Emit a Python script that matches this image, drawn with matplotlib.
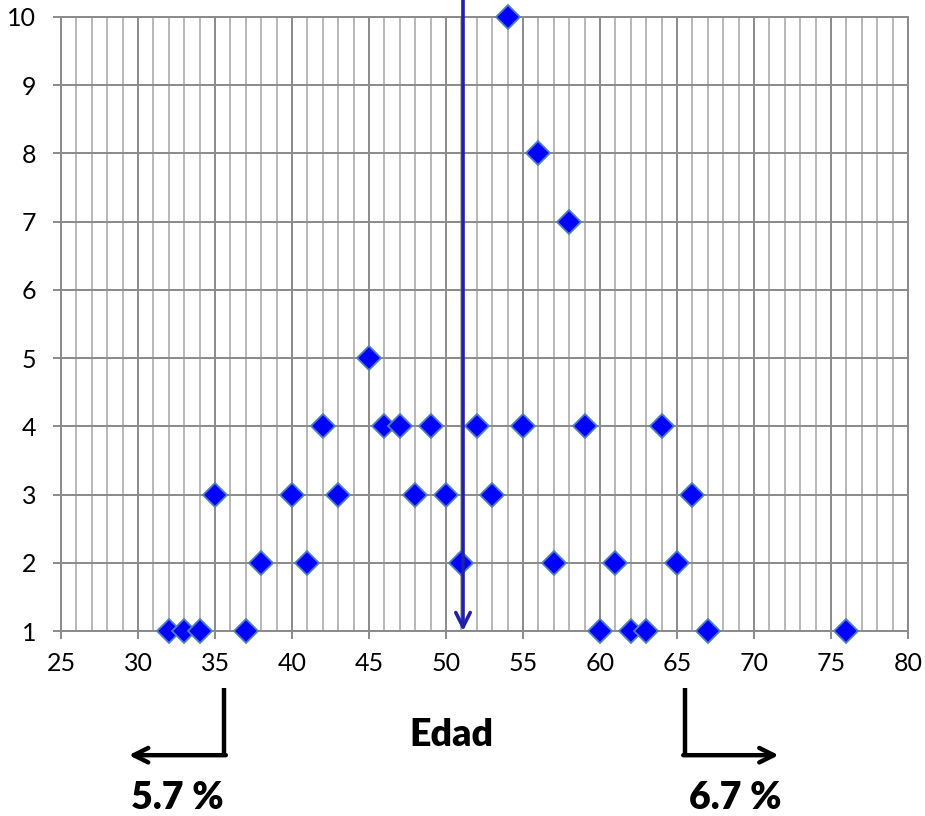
import matplotlib.pyplot as plt
from matplotlib.ticker import MultipleLocator

# edad vs frecuencia
edad = [32, 33, 34, 37, 60, 62, 63, 67, 76,
        38, 41, 51, 57, 61, 65,
        35, 40, 43, 48, 50, 53, 66,
        42, 46, 47, 49, 52, 55, 59, 64,
        45, 58, 56, 54]
frecuencia = [1, 1, 1, 1, 1, 1, 1, 1, 1,
              2, 2, 2, 2, 2, 2,
              3, 3, 3, 3, 3, 3, 3,
              4, 4, 4, 4, 4, 4, 4, 4,
              5, 7, 8, 10]

media = 51.1
corte_bajo, corte_alto = 35.6, 65.5
pct_bajo, pct_alto = '5.7 %', '6.7 %'

plt.rcParams['font.family'] = ['Lato', 'DejaVu Sans']

fig = plt.figure(figsize=(9.25, 8.16), dpi=100)
ax = fig.add_axes([0.066, 0.2267, 0.9157, 0.7525])

ax.set_xlim(25, 80)
ax.set_ylim(1, 10)
ax.xaxis.set_major_locator(MultipleLocator(5))
ax.xaxis.set_minor_locator(MultipleLocator(1))
ax.yaxis.set_major_locator(MultipleLocator(1))

ax.grid(which='major', axis='both', color='#8a8a8a', linewidth=1.4)
ax.grid(which='minor', axis='x', color='#b8b8b8', linewidth=1.4)
ax.set_axisbelow(True)
for s in ax.spines.values():
    s.set_color('#8a8a8a')
    s.set_linewidth(1.4)

ax.tick_params(which='major', length=6, width=1.4, color='#8a8a8a',
               labelsize=18)
ax.tick_params(axis='x', pad=9)
ax.tick_params(axis='y', pad=12)
ax.tick_params(which='minor', length=0)

ax.plot(edad, frecuencia, linestyle='none', marker='D', markersize=12.5,
        markerfacecolor='#0000ff', markeredgecolor='#4f81bd',
        markeredgewidth=1.3, clip_on=False, zorder=5)

# linea de la media
ax.annotate('', xy=(media, 1), xytext=(media, 10.3),
            arrowprops=dict(arrowstyle='->', color='#2020aa', lw=2.6,
                            mutation_scale=26, shrinkA=0, shrinkB=0),
            annotation_clip=False, zorder=6)

# flechas de colas
ax.plot([corte_bajo, corte_bajo], [0.17, -0.82], color='black', lw=3.2,
        clip_on=False, solid_capstyle='butt')
ax.annotate('', xy=(29.4, -0.82), xytext=(corte_bajo + 0.1, -0.82),
            arrowprops=dict(arrowstyle='->', color='black', lw=3.2,
                            mutation_scale=26, shrinkA=0, shrinkB=0),
            annotation_clip=False)
ax.plot([corte_alto, corte_alto], [0.17, -0.82], color='black', lw=3.2,
        clip_on=False, solid_capstyle='butt')
ax.annotate('', xy=(71.6, -0.82), xytext=(corte_alto - 0.1, -0.82),
            arrowprops=dict(arrowstyle='->', color='black', lw=3.2,
                            mutation_scale=26, shrinkA=0, shrinkB=0),
            annotation_clip=False)

fig.text(451 / 925, 1 - 735 / 816, 'Edad', fontsize=27, fontweight='heavy',
         ha='center', va='center')
fig.text(177 / 925, 1 - 798 / 816, pct_bajo, fontsize=27, fontweight='heavy',
         ha='center', va='center')
fig.text(735 / 925, 1 - 798 / 816, pct_alto, fontsize=27, fontweight='heavy',
         ha='center', va='center')

fig.savefig('out.png', dpi=100)
